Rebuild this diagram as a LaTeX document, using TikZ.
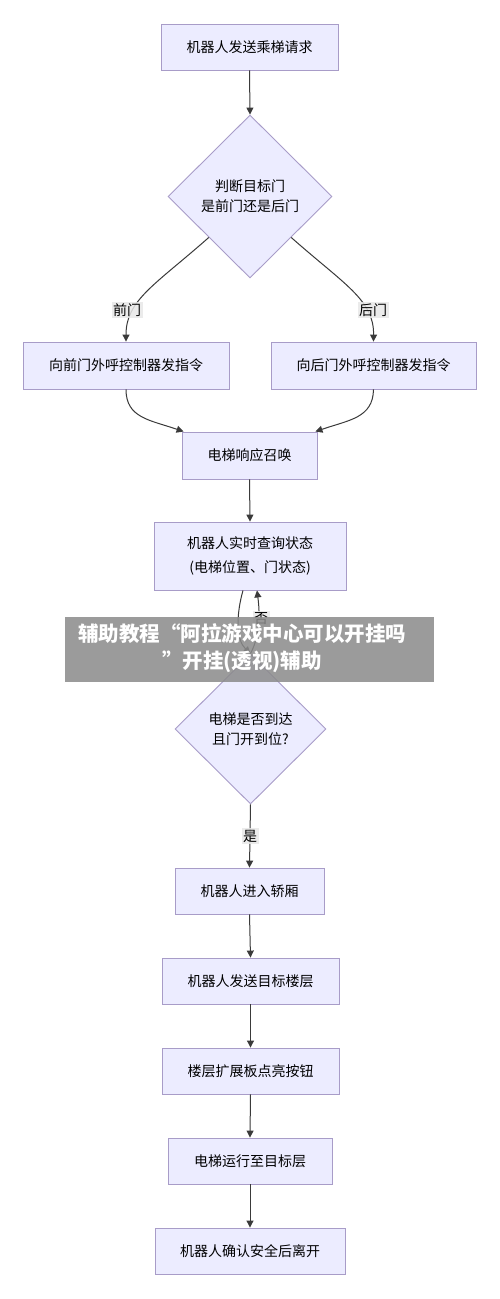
\documentclass[tikz,border=0pt]{standalone}
\usepackage{fontspec}
\setmainfont{Noto Sans CJK SC}
\usetikzlibrary{shapes.geometric,arrows.meta}
\definecolor{boxfill}{HTML}{ECECFF}
\definecolor{boxline}{HTML}{A89CC8}
\definecolor{edgecol}{HTML}{3A3A3A}
\definecolor{lblbg}{HTML}{E8E8E8}
\definecolor{bannergray}{HTML}{8A8A8A}
\tikzset{
  flowbox/.style={draw=boxline, fill=boxfill, line width=0.9pt, inner sep=0pt,
    align=center, font=\fontsize{14}{20}\selectfont},
  decide/.style={diamond, draw=boxline, fill=boxfill, line width=0.9pt, inner sep=0pt,
    align=center, font=\fontsize{14}{20}\selectfont},
  edge/.style={draw=edgecol, line width=1pt, -{Triangle[length=7pt,width=7pt]}},
  elabel/.style={fill=lblbg, fill opacity=0.85, text opacity=1, inner sep=1.5pt,
    font=\fontsize{14}{16}\selectfont},
}
\begin{document}
\begin{tikzpicture}[x=1pt,y=1pt]
\useasboundingbox (0,0) rectangle (500,-1299);
\fill[white] (0,0) rectangle (500,-1299);

\node[flowbox, minimum width=177pt, minimum height=46pt] (e1) at (249.5,-47) {机器人发送乘梯请求};
\node[decide, minimum width=164pt, minimum height=163pt] (d1) at (250,-196.5) {判断目标门\\是前门还是后门};
\node[flowbox, minimum width=206pt, minimum height=47pt] (lb) at (126,-365.5) {向前门外呼控制器发指令};
\node[flowbox, minimum width=205pt, minimum height=47pt] (rb) at (373.5,-365.5) {向后门外呼控制器发指令};
\node[flowbox, minimum width=135pt, minimum height=47pt] (e5) at (249.5,-455.5) {电梯响应召唤};
\node[flowbox, minimum width=192pt, minimum height=68pt, font=\fontsize{14}{24}\selectfont] (e6) at (250,-556) {机器人实时查询状态\\(电梯位置、门状态)};
\node[decide, minimum width=151pt, minimum height=150pt] (d2) at (250.5,-729) {电梯是否到达\\且门开到位?};
\node[flowbox, minimum width=149pt, minimum height=46pt] (e9) at (249.5,-891) {机器人进入轿厢};
\node[flowbox, minimum width=177pt, minimum height=46pt] (e10) at (250.5,-981) {机器人发送目标楼层};
\node[flowbox, minimum width=177pt, minimum height=46pt] (e11) at (250.5,-1071) {楼层扩展板点亮按钮};
\node[flowbox, minimum width=164pt, minimum height=46pt] (e12) at (250,-1161) {电梯运行至目标层};
\node[flowbox, minimum width=190pt, minimum height=46pt] (e13) at (250,-1251) {机器人确认安全后离开};

% edges
\draw[edge] (e1.south) -- (d1.north);
\draw[edge] (d1.south west) .. controls (155,-285) and (126,-300) .. (lb.north);
\draw[edge] (d1.south east) .. controls (345,-285) and (374,-300) .. (rb.north);
\draw[edge] (lb.south) .. controls (126,-418) and (150,-420) .. ([xshift=2pt]e5.north west);
\draw[edge] (rb.south) .. controls (373,-418) and (349,-420) .. ([xshift=-2pt]e5.north east);
\draw[edge] (e5.south) -- (e6.north);
\draw[edge] ([xshift=-7pt]e6.south) .. controls (236,-615) and (236,-640) .. (d2.north);
\draw[edge] (d2.north) .. controls (262,-632) and (259,-606) .. ([xshift=7pt]e6.south);
\draw[edge] (d2.south) -- (e9.north);
\draw[edge] (e9.south) -- (e10.north);
\draw[edge] (e10.south) -- (e11.north);
\draw[edge] (e11.south) -- (e12.north);
\draw[edge] (e12.south) -- (e13.north);

% edge labels
\node[elabel] (lfront) at (127,-310) {前门};
\node[elabel] (lback) at (373,-310) {后门};
\node[elabel] (lno) at (261,-619) {否};
\node[elabel] (lyes) at (250,-836) {是};

% overlay banner
\fill[bannergray, opacity=0.85] (65,-617) rectangle (434,-682);
\node[text=white, align=center, font=\fontsize{20.5}{27}\selectfont\bfseries] (banner) at (242,-648.5)
  {辅助教程“阿拉游戏中心可以开挂吗\\”开挂(透视)辅助};
\end{tikzpicture}
\end{document}
